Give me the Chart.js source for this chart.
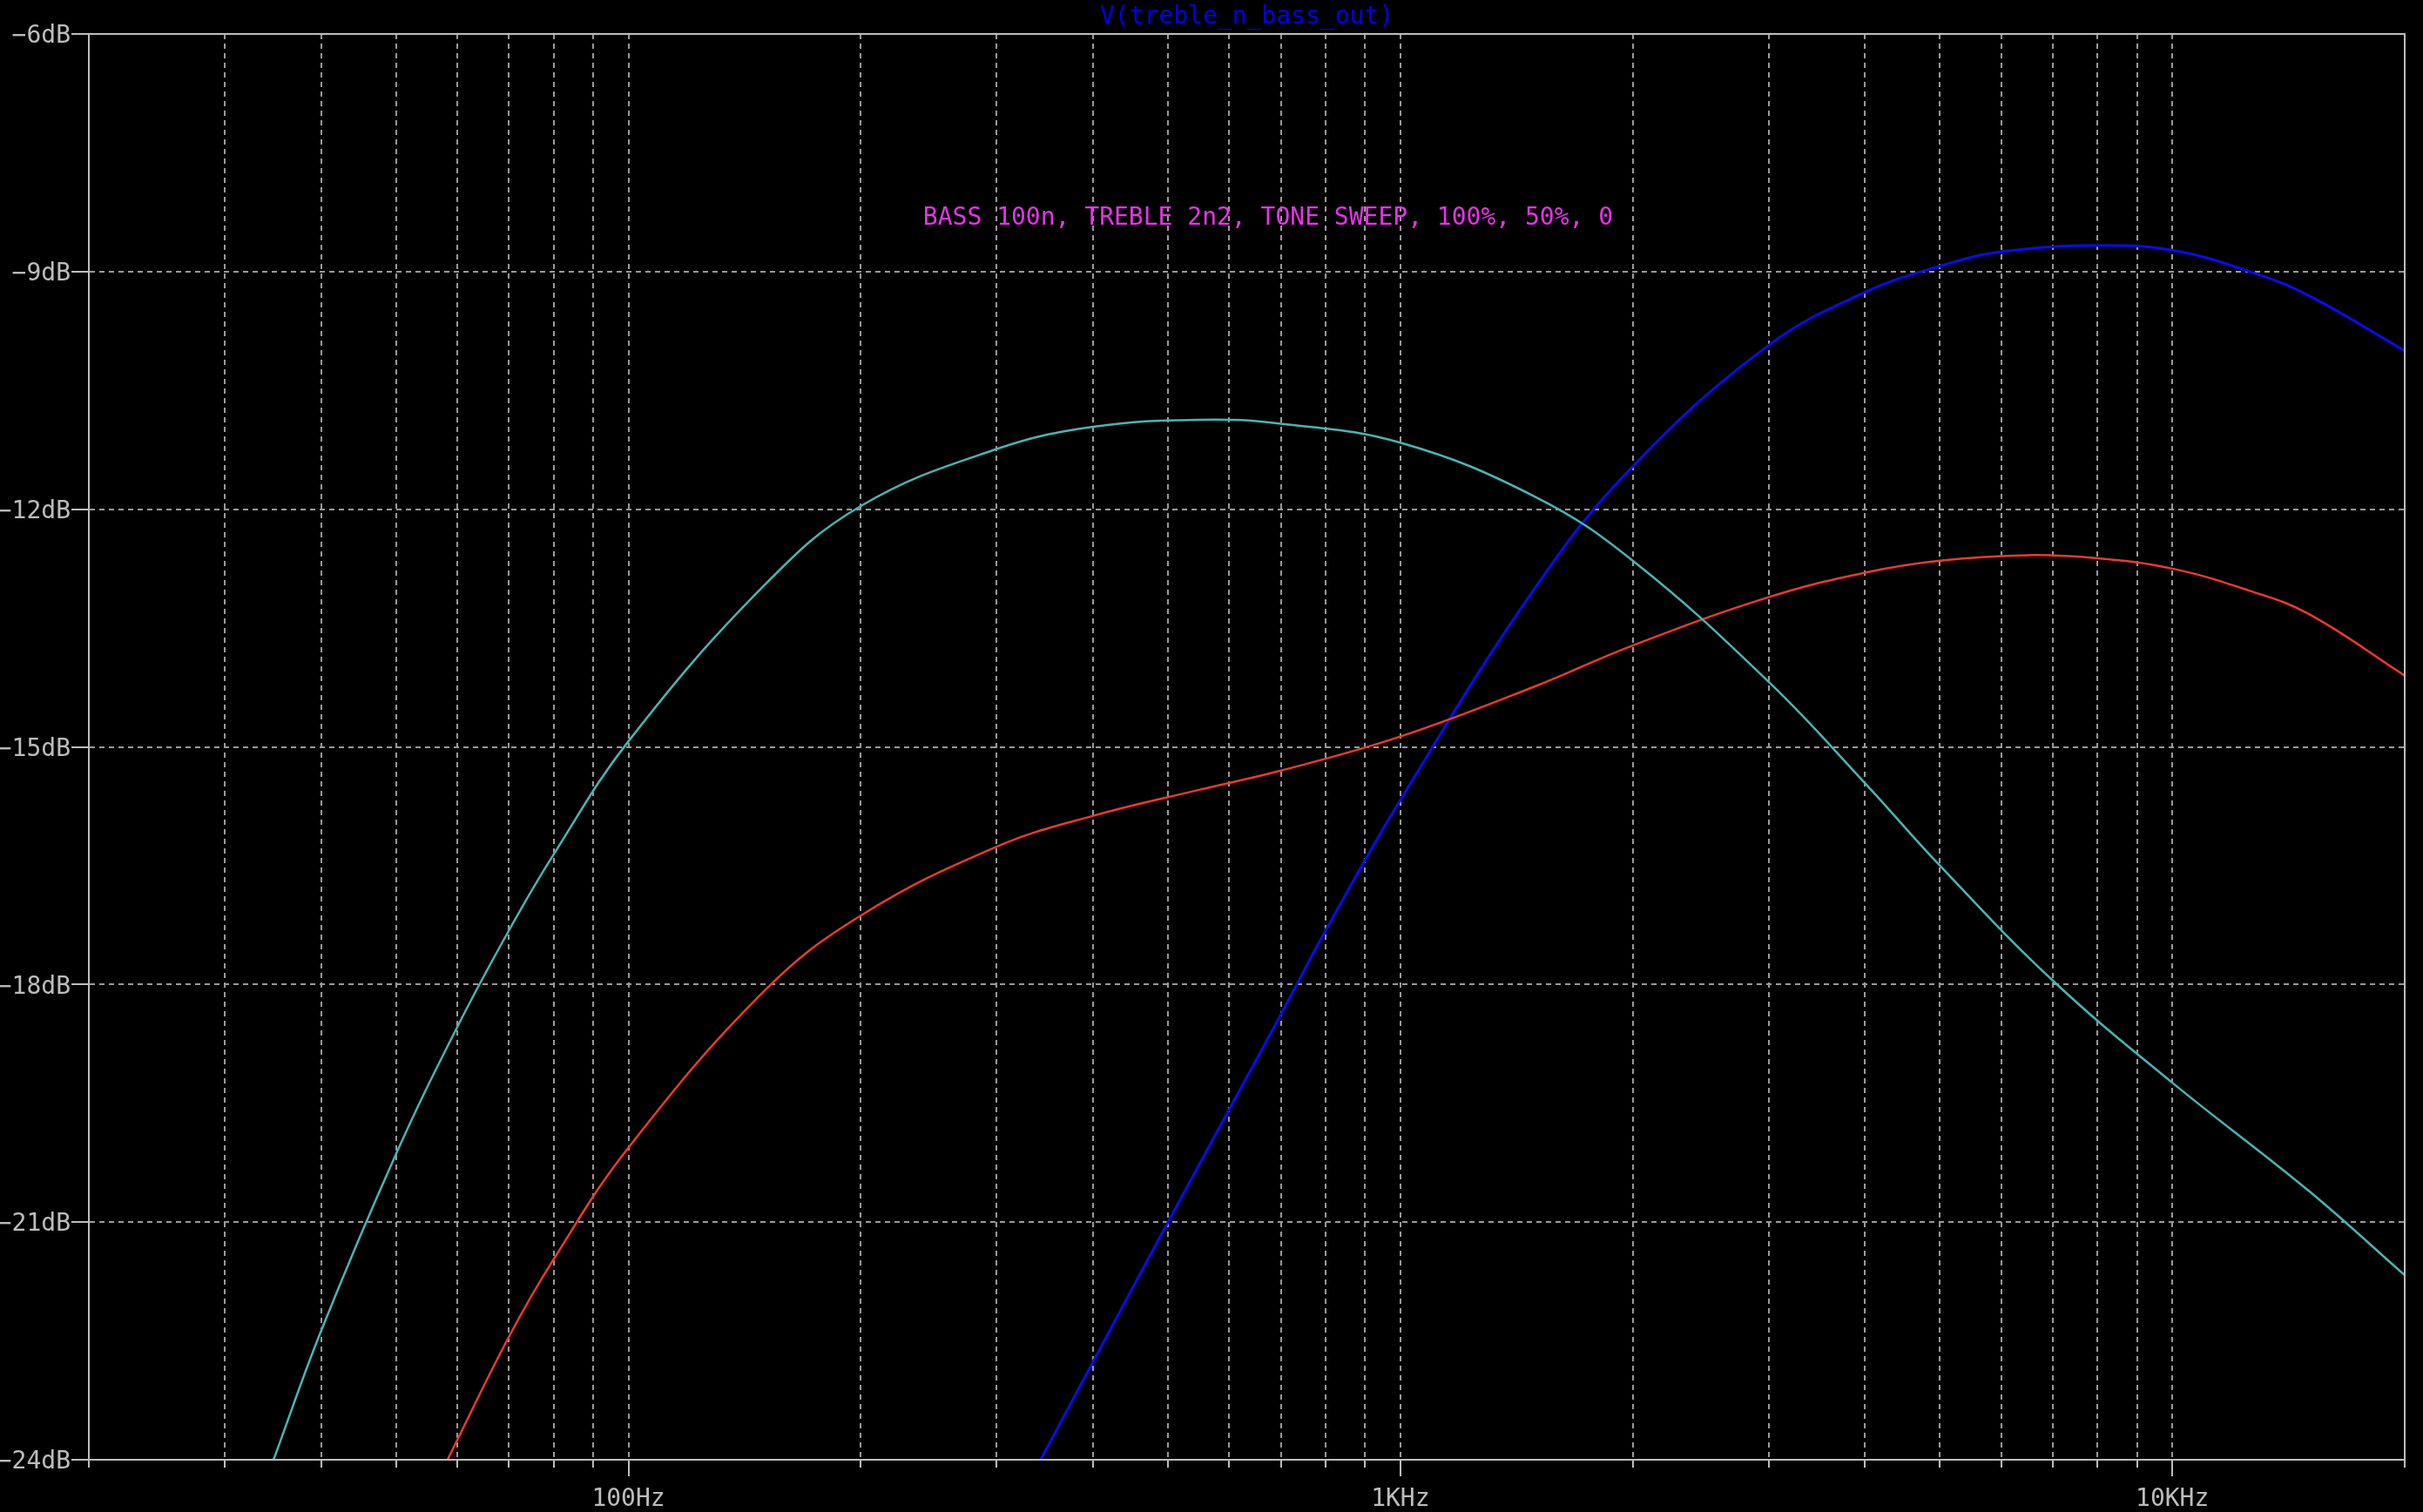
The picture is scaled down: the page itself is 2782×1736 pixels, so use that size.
<!DOCTYPE html>
<html>
<head>
<meta charset="utf-8">
<script src="https://cdn.jsdelivr.net/npm/chart.js@4.4.1/dist/chart.umd.min.js"></script>
<style>
  html, body { margin: 0; padding: 0; background: #000; }
</style>
</head>
<body>
<canvas id="bode" width="2782" height="1736"></canvas>
<script>
// Tone sweep 100% (cyan): frequency (Hz) and level (dB)
const cyanHz = [34.7, 40, 50, 60, 70, 80, 100, 150, 200, 300, 400, 550, 700, 1000, 1500, 2000, 3000, 4000,
  5000, 7000, 10000, 15000, 20000];
const cyanDb = [-24, -22.37, -20.14, -18.54, -17.32, -16.36, -14.93, -12.96, -11.96, -11.24, -10.96, -10.87,
  -10.92, -11.16, -11.85, -12.65, -14.18, -15.46, -16.5, -17.95, -19.24, -20.6, -21.67];

// Tone sweep 50% (red)
const redHz = [58.3, 70, 80, 100, 150, 200, 300, 400, 550, 700, 1000, 1500, 2000, 3000, 4000, 5000, 6500,
  8000, 10000, 12600, 15000, 20000];
const redDb = [-24, -22.45, -21.47, -20.06, -18.08, -17.13, -16.26, -15.87, -15.54, -15.3, -14.87, -14.23,
  -13.72, -13.11, -12.8, -12.65, -12.58, -12.62, -12.75, -13.03, -13.32, -14.1];

// Tone sweep 0 (blue)
const blueHz = [342, 400, 500, 600, 700, 800, 1000, 1500, 2000, 3000, 4000, 5000, 6000, 8000, 10000, 12600,
  15000, 20000];
const blueDb = [-24, -22.76, -21.0, -19.58, -18.38, -17.32, -15.67, -12.97, -11.46, -9.93, -9.26, -8.93, -8.75,
  -8.67, -8.73, -9.0, -9.3, -10.0];

const dbTicks = [-24, -21, -18, -15, -12, -9, -6];
const freqTicks = [20, 30, 40, 50, 60, 70, 80, 90, 100, 200, 300, 400, 500, 600, 700, 800, 900,
  1000, 2000, 3000, 4000, 5000, 6000, 7000, 8000, 9000, 10000, 20000];
const freqLabels = { 100: '100Hz', 1000: '1KHz', 10000: '10KHz' };

const plotTitle = 'V(treble_n_bass_out)';
const noteText = 'BASS 100n, TREBLE 2n2, TONE SWEEP, 100%, 50%, 0';
const noteAt = { freq: 674, db: -8.41 };

const grey = '#bdbdbd';
const gridGrey = '#9a9a9a';
const monoFont = { family: "'DejaVu Sans Mono', monospace", size: 28 };

const makeDataset = (label, hz, db, color, width) => ({
  label,
  data: hz.map((f, i) => ({ x: f, y: db[i] })),
  borderColor: color,
  backgroundColor: color,
  borderWidth: width,
  pointRadius: 0,
  tension: 0.4,
});

// Solid frame, long decade ticks and the text annotation.
const frameAndNote = {
  id: 'frameAndNote',
  afterDraw: (chart) => {
    const { ctx, chartArea: a, scales } = chart;
    ctx.save();
    ctx.strokeStyle = grey;
    ctx.lineWidth = 2;
    ctx.setLineDash([]);
    ctx.strokeRect(a.left, a.top, a.right - a.left, a.bottom - a.top);
    ctx.beginPath();
    Object.keys(freqLabels).forEach((f) => {
      const x = Math.round(scales.x.getPixelForValue(Number(f)));
      ctx.moveTo(x, a.bottom);
      ctx.lineTo(x, a.bottom + 19);
    });
    ctx.stroke();
    ctx.font = `${monoFont.size}px ${monoFont.family}`;
    ctx.fillStyle = '#e535e5';
    ctx.textAlign = 'center';
    ctx.textBaseline = 'alphabetic';
    ctx.fillText(noteText, scales.x.getPixelForValue(noteAt.freq), scales.y.getPixelForValue(noteAt.db));
    ctx.restore();
  },
};

new Chart(document.getElementById('bode'), {
  type: 'line',
  data: {
    datasets: [
      makeDataset('100%', cyanHz, cyanDb, '#4cb4b4', 2.5),
      makeDataset('50%', redHz, redDb, '#ee3a2c', 2.5),
      makeDataset('0', blueHz, blueDb, '#0a0af5', 3),
    ],
  },
  options: {
    responsive: false,
    animation: false,
    events: [],
    layout: { padding: { left: 0, right: 21, top: 0, bottom: 0 } },
    scales: {
      x: {
        type: 'logarithmic',
        min: 20,
        max: 20000,
        afterBuildTicks: (scale) => { scale.ticks = freqTicks.map((v) => ({ value: v })); },
        afterFit: (scale) => { scale.height = 60; },
        ticks: {
          autoSkip: false,
          maxRotation: 0,
          padding: 20,
          color: grey,
          font: monoFont,
          callback: (value) => freqLabels[value] || '',
        },
        grid: {
          color: gridGrey,
          lineWidth: 2,
          tickLength: 9,
          tickColor: grey,
          tickWidth: 2,
          tickBorderDash: [],
        },
        border: { display: true, color: grey, width: 2, dash: [6, 5] },
      },
      y: {
        type: 'linear',
        min: -24,
        max: -6,
        afterBuildTicks: (scale) => { scale.ticks = dbTicks.map((v) => ({ value: v })); },
        afterFit: (scale) => { scale.width = 102; },
        ticks: {
          padding: 1,
          labelOffset: 3,
          color: grey,
          font: monoFont,
          callback: (value) => `${value}dB`.replace('-', '\u2212'),
        },
        grid: {
          color: gridGrey,
          lineWidth: 2,
          tickLength: 20,
          tickColor: grey,
          tickWidth: 2,
          tickBorderDash: [],
        },
        border: { display: true, color: grey, width: 2, dash: [6, 5] },
      },
    },
    plugins: {
      legend: { display: false },
      tooltip: { enabled: false },
      title: {
        display: true,
        fullSize: false,
        text: plotTitle,
        color: '#0000f0',
        font: { ...monoFont, weight: 'normal', lineHeight: 1 },
        padding: { top: 6, bottom: 5 },
      },
    },
  },
  plugins: [frameAndNote],
});
</script>
</body>
</html>
